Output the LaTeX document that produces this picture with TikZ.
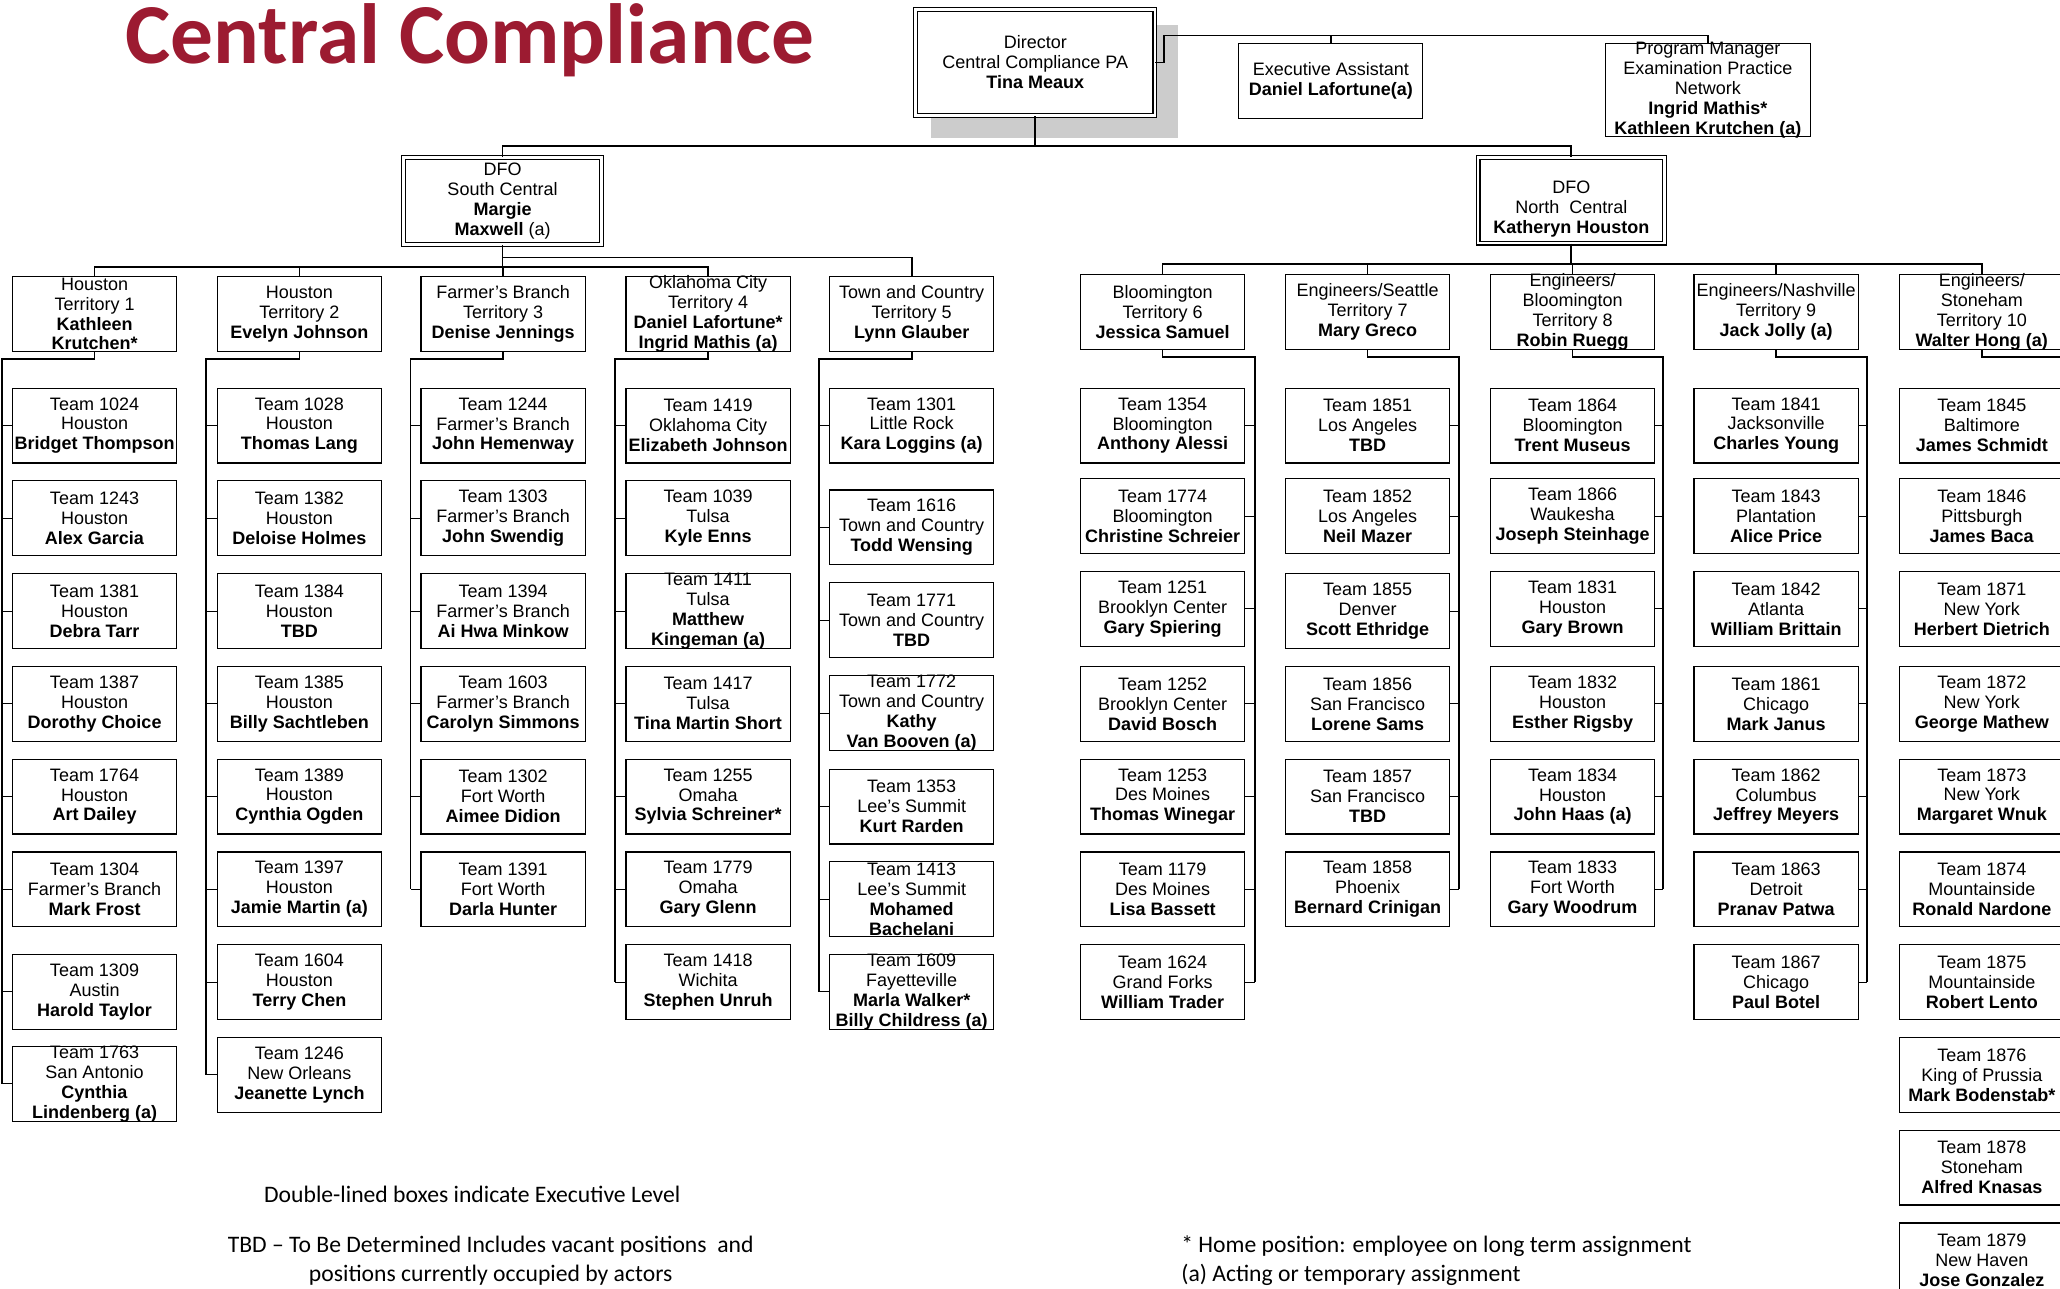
\documentclass[tikz,border=0pt]{standalone}
\usepackage{fontspec}
\setmainfont{Liberation Sans}
\newfontfamily\calib{Carlito}
\definecolor{titlered}{RGB}{156,27,49}
\definecolor{shadowgray}{RGB}{204,204,204}
\def\RowA{295}\def\RowB{365.6}\def\RowC{436.2}\def\RowD{506.8}\def\RowE{577.4}
\def\RowF{648}\def\RowG{718.6}\def\RowH{789.2}\def\RowI{859.8}\def\RowJ{930.4}
\newcommand{\tm}[4]{\node[tbox, label={[btext,name=#1x]center:{#4}}] (#1) at (#2,#3) {};}
\begin{document}
\begin{tikzpicture}[x=1pt,y=-1pt,
  tbox/.style={draw, line width=0.9pt, minimum width=125pt, minimum height=57pt, inner sep=0pt, anchor=north west, fill=white},
  btext/.style={font=\fontsize{13.7}{15.2}\selectfont, align=center, inner sep=0pt},
  xbox/.style={draw, double, double distance=2pt, line width=0.9pt, inner sep=0pt, fill=white},
  sbox/.style={draw, line width=0.9pt, inner sep=0pt, fill=white},
  conn/.style={line width=1.3pt},
  stub/.style={line width=0.8pt},
  legend/.style={font=\calib\fontsize{18}{21.5}\selectfont, inner sep=0pt}]
\useasboundingbox (0,0) rectangle (1568,981);
\clip (0,0) rectangle (1568,981);

% title
\node[anchor=base west, inner sep=0pt, text=titlered, font=\calib\bfseries\fontsize{65}{70}\selectfont] (title) at (95.5,48) {Central Compliance};

% executive level
\fill[shadowgray] (709,19) rectangle (897,105);
\node[xbox, minimum width=182pt, minimum height=81pt, label={[btext,name=dirx]center:{Director\\Central Compliance PA\\\textbf{Tina Meaux}}}] (dir) at (788,47.5) {};
\node[sbox, minimum width=140pt, minimum height=57pt, label={[btext,name=eax]center:{Executive Assistant\\\textbf{Daniel Lafortune(a)}}}] (ea) at (1013,61.5) {};
\node[sbox, minimum width=156pt, minimum height=71pt, label={[btext,name=pmx]center:{Program Manager\\Examination Practice\\Network\\\textbf{Ingrid Mathis*}\\\textbf{Kathleen Krutchen (a)}}}] (pm) at (1300,68.5) {};
\node[xbox, minimum width=151pt, minimum height=66pt, label={[btext,name=dfosx]center:{DFO\\South Central\\\textbf{Margie}\\\textbf{Maxwell} (a)}}] (dfoS) at (382.5,153) {};
\node[xbox, minimum width=142pt, minimum height=65pt, label={[btext,name=dfonx,yshift=-7pt]center:{DFO\\North~ Central\\\textbf{Katheryn Houston}}}] (dfoN) at (1196,152.5) {};

% territories
\tm{t1}{9}{210}{Houston\\Territory 1\\\textbf{Kathleen}\\\textbf{Krutchen*}}
\tm{t2}{165}{210}{Houston\\Territory 2\\\textbf{Evelyn Johnson}}
\tm{t3}{320}{210}{Farmer’s Branch\\Territory 3\\\textbf{Denise Jennings}}
\tm{t4}{476}{210}{Oklahoma City\\Territory 4\\\textbf{Daniel Lafortune*}\\\textbf{Ingrid Mathis (a)}}
\tm{t5}{631}{210}{Town and Country\\Territory 5\\\textbf{Lynn Glauber}}
\tm{t6}{822}{208.5}{Bloomington\\Territory 6\\\textbf{Jessica Samuel}}
\tm{t7}{978}{208.5}{Engineers/Seattle\\Territory 7\\\textbf{Mary Greco}}
\tm{t8}{1134}{208.5}{Engineers/\\Bloomington\\Territory 8\\\textbf{Robin Ruegg}}
\tm{t9}{1289}{208.5}{Engineers/Nashville\\Territory 9\\\textbf{Jack Jolly (a)}}
\tm{t10}{1445.5}{208.5}{Engineers/\\Stoneham\\Territory 10\\\textbf{Walter Hong (a)}}

% column 1
\tm{t1a}{9}{\RowA}{Team 1024\\Houston\\\textbf{Bridget Thompson}}
\tm{t1b}{9}{\RowB}{Team 1243\\Houston\\\textbf{Alex Garcia}}
\tm{t1c}{9}{\RowC}{Team 1381\\Houston\\\textbf{Debra Tarr}}
\tm{t1d}{9}{\RowD}{Team 1387\\Houston\\\textbf{Dorothy Choice}}
\tm{t1e}{9}{\RowE}{Team 1764\\Houston\\\textbf{Art Dailey}}
\tm{t1f}{9}{\RowF}{Team 1304\\Farmer’s Branch\\\textbf{Mark Frost}}
\tm{t1g}{9}{726}{Team 1309\\Austin\\\textbf{Harold Taylor}}
\tm{t1h}{9}{796}{Team 1763\\San Antonio\\\textbf{Cynthia}\\\textbf{Lindenberg (a)}}
% column 2
\tm{t2a}{165}{\RowA}{Team 1028\\Houston\\\textbf{Thomas Lang}}
\tm{t2b}{165}{\RowB}{Team 1382\\Houston\\\textbf{Deloise Holmes}}
\tm{t2c}{165}{\RowC}{Team 1384\\Houston\\\textbf{TBD}}
\tm{t2d}{165}{\RowD}{Team 1385\\Houston\\\textbf{Billy Sachtleben}}
\tm{t2e}{165}{\RowE}{Team 1389\\Houston\\\textbf{Cynthia Ogden}}
\tm{t2f}{165}{\RowF}{Team 1397\\Houston\\\textbf{Jamie Martin (a)}}
\tm{t2g}{165}{\RowG}{Team 1604\\Houston\\\textbf{Terry Chen}}
\tm{t2h}{165}{\RowH}{Team 1246\\New Orleans\\\textbf{Jeanette Lynch}}
% column 3
\tm{t3a}{320}{\RowA}{Team 1244\\Farmer’s Branch\\\textbf{John Hemenway}}
\tm{t3b}{320}{\RowB}{Team 1303\\Farmer’s Branch\\\textbf{John Swendig}}
\tm{t3c}{320}{\RowC}{Team 1394\\Farmer’s Branch\\\textbf{Ai Hwa Minkow}}
\tm{t3d}{320}{\RowD}{Team 1603\\Farmer’s Branch\\\textbf{Carolyn Simmons}}
\tm{t3e}{320}{\RowE}{Team 1302\\Fort Worth\\\textbf{Aimee Didion}}
\tm{t3f}{320}{\RowF}{Team 1391\\Fort Worth\\\textbf{Darla Hunter}}
% column 4
\tm{t4a}{476}{\RowA}{Team 1419\\Oklahoma City\\\textbf{Elizabeth Johnson}}
\tm{t4b}{476}{\RowB}{Team 1039\\Tulsa\\\textbf{Kyle Enns}}
\tm{t4c}{476}{\RowC}{Team 1411\\Tulsa\\\textbf{Matthew}\\\textbf{Kingeman (a)}}
\tm{t4d}{476}{\RowD}{Team 1417\\Tulsa\\\textbf{Tina Martin Short}}
\tm{t4e}{476}{\RowE}{Team 1255\\Omaha\\\textbf{Sylvia Schreiner*}}
\tm{t4f}{476}{\RowF}{Team 1779\\Omaha\\\textbf{Gary Glenn}}
\tm{t4g}{476}{\RowG}{Team 1418\\Wichita\\\textbf{Stephen Unruh}}
% column 5
\tm{t5a}{631}{\RowA}{Team 1301\\Little Rock\\\textbf{Kara Loggins (a)}}
\tm{t5b}{631}{372.5}{Team 1616\\Town and Country\\\textbf{Todd Wensing}}
\tm{t5c}{631}{443}{Team 1771\\Town and Country\\\textbf{TBD}}
\tm{t5d}{631}{514}{Team 1772\\Town and Country\\\textbf{Kathy}\\\textbf{Van Booven (a)}}
\tm{t5e}{631}{585}{Team 1353\\Lee’s Summit\\\textbf{Kurt Rarden}}
\tm{t5f}{631}{655.5}{Team 1413\\Lee’s Summit\\\textbf{Mohamed}\\\textbf{Bachelani}}
\tm{t5g}{631}{726}{Team 1609\\Fayetteville\\\textbf{Marla Walker*}\\\textbf{Billy Childress (a)}}
% column 6
\tm{t6a}{822}{\RowA}{Team 1354\\Bloomington\\\textbf{Anthony Alessi}}
\tm{t6b}{822}{364}{Team 1774\\Bloomington\\\textbf{Christine Schreier}}
\tm{t6c}{822}{434.5}{Team 1251\\Brooklyn Center\\\textbf{Gary Spiering}}
\tm{t6d}{822}{\RowD}{Team 1252\\Brooklyn Center\\\textbf{David Bosch}}
\tm{t6e}{822}{\RowE}{Team 1253\\Des Moines\\\textbf{Thomas Winegar}}
\tm{t6f}{822}{\RowF}{Team 1179\\Des Moines\\\textbf{Lisa Bassett}}
\tm{t6g}{822}{\RowG}{Team 1624\\Grand Forks\\\textbf{William Trader}}
% column 7
\tm{t7a}{978}{\RowA}{Team 1851\\Los Angeles\\\textbf{TBD}}
\tm{t7b}{978}{364}{Team 1852\\Los Angeles\\\textbf{Neil Mazer}}
\tm{t7c}{978}{\RowC}{Team 1855\\Denver\\\textbf{Scott Ethridge}}
\tm{t7d}{978}{\RowD}{Team 1856\\San Francisco\\\textbf{Lorene Sams}}
\tm{t7e}{978}{\RowE}{Team 1857\\San Francisco\\\textbf{TBD}}
\tm{t7f}{978}{\RowF}{Team 1858\\Phoenix\\\textbf{Bernard Crinigan}}
% column 8
\tm{t8a}{1134}{\RowA}{Team 1864\\Bloomington\\\textbf{Trent Museus}}
\tm{t8b}{1134}{364}{Team 1866\\Waukesha\\\textbf{Joseph Steinhage}}
\tm{t8c}{1134}{434.5}{Team 1831\\Houston\\\textbf{Gary Brown}}
\tm{t8d}{1134}{\RowD}{Team 1832\\Houston\\\textbf{Esther Rigsby}}
\tm{t8e}{1134}{\RowE}{Team 1834\\Houston\\\textbf{John Haas (a)}}
\tm{t8f}{1134}{\RowF}{Team 1833\\Fort Worth\\\textbf{Gary Woodrum}}
% column 9
\tm{t9a}{1289}{\RowA}{Team 1841\\Jacksonville\\\textbf{Charles Young}}
\tm{t9b}{1289}{364}{Team 1843\\Plantation\\\textbf{Alice Price}}
\tm{t9c}{1289}{434.5}{Team 1842\\Atlanta\\\textbf{William Brittain}}
\tm{t9d}{1289}{\RowD}{Team 1861\\Chicago\\\textbf{Mark Janus}}
\tm{t9e}{1289}{\RowE}{Team 1862\\Columbus\\\textbf{Jeffrey Meyers}}
\tm{t9f}{1289}{\RowF}{Team 1863\\Detroit\\\textbf{Pranav Patwa}}
\tm{t9g}{1289}{\RowG}{Team 1867\\Chicago\\\textbf{Paul Botel}}
% column 10
\tm{t10a}{1445.5}{\RowA}{Team 1845\\Baltimore\\\textbf{James Schmidt}}
\tm{t10b}{1445.5}{364}{Team 1846\\Pittsburgh\\\textbf{James Baca}}
\tm{t10c}{1445.5}{434.5}{Team 1871\\New York\\\textbf{Herbert Dietrich}}
\tm{t10d}{1445.5}{\RowD}{Team 1872\\New York\\\textbf{George Mathew}}
\tm{t10e}{1445.5}{\RowE}{Team 1873\\New York\\\textbf{Margaret Wnuk}}
\tm{t10f}{1445.5}{\RowF}{Team 1874\\Mountainside\\\textbf{Ronald Nardone}}
\tm{t10g}{1445.5}{\RowG}{Team 1875\\Mountainside\\\textbf{Robert Lento}}
\tm{t10h}{1445.5}{\RowH}{Team 1876\\King of Prussia\\\textbf{Mark Bodenstab*}}
\tm{t10i}{1445.5}{\RowI}{Team 1878\\Stoneham\\\textbf{Alfred Knasas}}
\tm{t10j}{1445.5}{\RowJ}{Team 1879\\New Haven\\\textbf{Jose Gonzalez}}

% ---- connectors: executive level
\coordinate (jog) at (886,27);
\coordinate (bus1) at (788,111);
\draw[conn] (dir.east) -- (dir.east -| jog) -- (jog) -| (pm.north);
\draw[conn] (jog -| ea.north) -- (ea.north);
\draw[conn] (dir.south) -- (bus1);
\draw[conn] (dfoS.north) |- (bus1) -| (dfoN.north);

% south central bus
\coordinate (bS1) at (382.5,196);
\coordinate (bS2) at (382.5,203);
\draw[conn] (dfoS.south) -- (bS2);
\draw[conn] (bS1) -| (t5.north);
\draw[conn] (t1.north) |- (bS2) -| (t4.north);
\draw[conn] (t2.north) -- (t2.north |- bS2);
\draw[conn] (t3.north) -- (t3.north |- bS2);

% north central bus
\coordinate (bN) at (1196,201);
\draw[conn] (dfoN.south) -- (bN);
\draw[conn] (t6.north) |- (bN) -| (t10.north);
\foreach \t in {t7,t8,t9} \draw[conn] (\t.north) -- (\t.north |- bN);

% column trunks (south: left side)
\coordinate (v1) at (1.5,273);
\coordinate (v2) at (157,273);
\coordinate (v3) at (312.5,273);
\coordinate (v4) at (468,273);
\coordinate (v5) at (623.5,273);
\draw[conn] (t1.south) -- (t1.south |- v1) -- (v1) -- (v1 |- t1h.west);
\draw[conn] (t2.south) -- (t2.south |- v2) -- (v2) -- (v2 |- t2h.west);
\draw[conn] (t3.south) -- (t3.south |- v3) -- (v3) -- (v3 |- t3f.west);
\draw[conn] (t4.south) -- (t4.south |- v4) -- (v4) -- (v4 |- t4g.west);
\draw[conn] (t5.south) -- (t5.south |- v5) -- (v5) -- (v5 |- t5g.west);
\foreach \b in {t1a,t1b,t1c,t1d,t1e,t1f,t1g,t1h} \draw[stub] (\b.west) -- (\b.west -| v1);
\foreach \b in {t2a,t2b,t2c,t2d,t2e,t2f,t2g,t2h} \draw[stub] (\b.west) -- (\b.west -| v2);
\foreach \b in {t3a,t3b,t3c,t3d,t3e,t3f} \draw[stub] (\b.west) -- (\b.west -| v3);
\foreach \b in {t4a,t4b,t4c,t4d,t4e,t4f,t4g} \draw[stub] (\b.west) -- (\b.west -| v4);
\foreach \b in {t5a,t5b,t5c,t5d,t5e,t5f,t5g} \draw[stub] (\b.west) -- (\b.west -| v5);

% column trunks (north: right side)
\coordinate (v6) at (955,272);
\coordinate (v7) at (1110.5,272);
\coordinate (v8) at (1266,272);
\coordinate (v9) at (1421,272);
\coordinate (v10) at (1578,272);
\draw[conn] (t6.south) -- (t6.south |- v6) -- (v6) -- (v6 |- t6g.east);
\draw[conn] (t7.south) -- (t7.south |- v7) -- (v7) -- (v7 |- t7f.east);
\draw[conn] (t8.south) -- (t8.south |- v8) -- (v8) -- (v8 |- t8f.east);
\draw[conn] (t9.south) -- (t9.south |- v9) -- (v9) -- (v9 |- t9g.east);
\draw[conn] (t10.south) -- (t10.south |- v10) -- (v10) -- (v10 |- t10j.east);
\foreach \b in {t6a,t6b,t6c,t6d,t6e,t6f,t6g} \draw[stub] (\b.east) -- (\b.east -| v6);
\foreach \b in {t7a,t7b,t7c,t7d,t7e,t7f} \draw[stub] (\b.east) -- (\b.east -| v7);
\foreach \b in {t8a,t8b,t8c,t8d,t8e,t8f} \draw[stub] (\b.east) -- (\b.east -| v8);
\foreach \b in {t9a,t9b,t9c,t9d,t9e,t9f,t9g} \draw[stub] (\b.east) -- (\b.east -| v9);

% legend
\node[legend, anchor=center] (lg1) at (359.5,909) {Double-lined boxes indicate Executive Level};
\node[legend, align=center, anchor=center] (lg2) at (373.5,959.5) {TBD – To Be Determined Includes vacant positions~ and\\positions currently occupied by actors};
\node[legend, align=left, anchor=west] (lg3) at (899,959.5) {* Home position: employee on long term assignment\\(a) Acting or temporary assignment};
\end{tikzpicture}
\end{document}
